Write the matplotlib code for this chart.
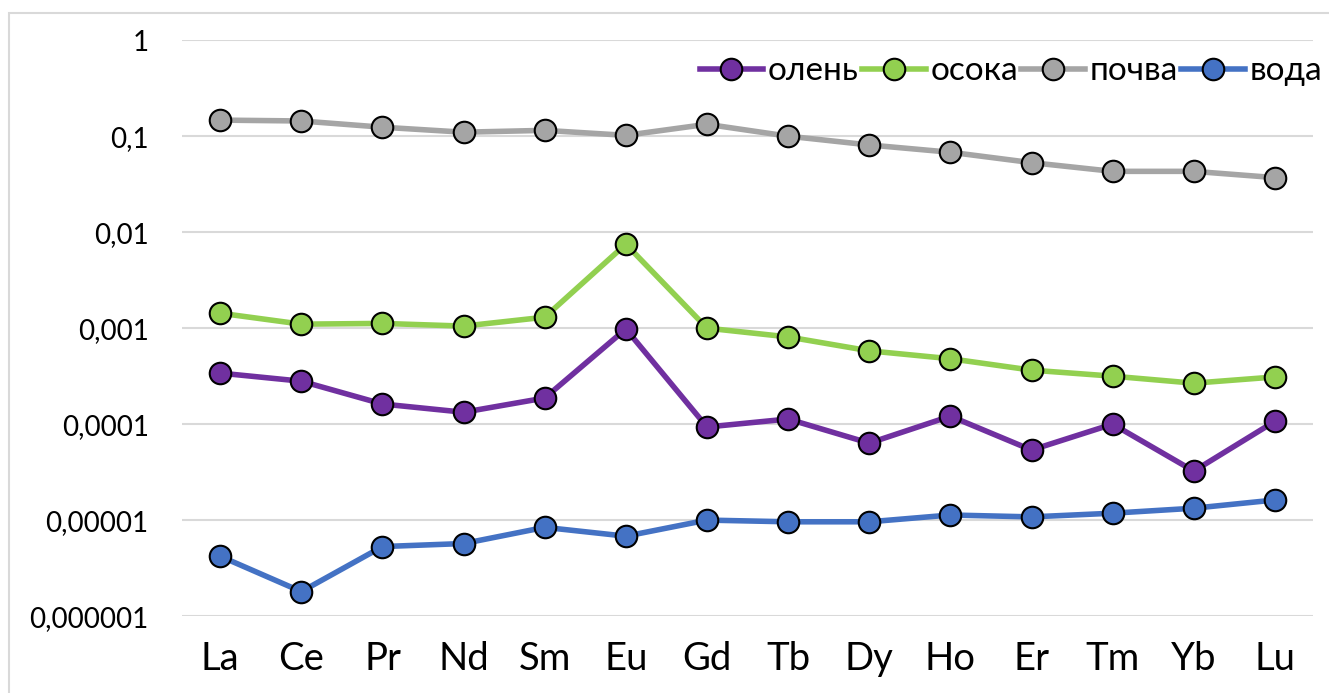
import matplotlib
matplotlib.use("Agg")
import matplotlib.pyplot as plt
from matplotlib.patches import Rectangle

elements = ["La", "Ce", "Pr", "Nd", "Sm", "Eu", "Gd", "Tb", "Dy", "Ho", "Er", "Tm", "Yb", "Lu"]

olen = [0.00034, 0.00028, 0.000162, 0.000133, 0.000187, 0.00098, 0.0000933,
        0.000113, 0.0000634, 0.000121, 0.0000537, 0.0001, 0.0000324, 0.000107]
osoka = [0.00143, 0.0011, 0.00112, 0.00105, 0.0013, 0.0075, 0.001,
         0.00081, 0.00058, 0.00048, 0.000365, 0.000316, 0.000267, 0.00031]
pochva = [0.147, 0.144, 0.124, 0.11, 0.115, 0.102, 0.133,
          0.1, 0.081, 0.068, 0.053, 0.043, 0.043, 0.037]
voda = [0.0000042, 0.0000018, 0.0000053, 0.0000057, 0.0000084, 0.0000068, 0.00001,
        0.0000096, 0.0000096, 0.0000113, 0.0000108, 0.0000118, 0.0000133, 0.0000162]

series = [("олень", olen, "#7030A0"),
          ("осока", osoka, "#92D050"),
          ("почва", pochva, "#A5A5A5"),
          ("вода", voda, "#4472C4")]

yticks = [1e-6, 1e-5, 1e-4, 1e-3, 1e-2, 1e-1, 1]
ylabels = ["0,000001", "0,00001", "0,0001", "0,001", "0,01", "0,1", "1"]

plt.rcParams['font.family'] = ['Lato', 'DejaVu Sans']

fig = plt.figure(figsize=(13.29, 6.93), dpi=100)
ax = fig.add_axes([0.137, 0.111, 0.851, 0.831])

# light frame around the chart area
fig.patches.append(Rectangle((9 / 1329, -0.1), 1.2, 1.1 - 13 / 693, transform=fig.transFigure,
                             fill=False, edgecolor="#D9D9D9", linewidth=1.5))

x = list(range(len(elements)))
for name, vals, col in series:
    ax.plot(x, vals, color=col, linewidth=4, marker="o", markersize=15.5,
            markerfacecolor=col, markeredgecolor="black", markeredgewidth=1.5,
            label=name, zorder=3)

ax.set_yscale("log")
ax.set_ylim(1e-6, 1)
ax.set_xlim(-0.47, 13.47)
ax.yaxis.set_major_locator(matplotlib.ticker.FixedLocator(yticks))
ax.yaxis.set_minor_locator(matplotlib.ticker.NullLocator())
ax.set_yticks(yticks)
ax.set_yticklabels(ylabels)
ax.set_xticks(x)
ax.set_xticklabels(elements)
ax.tick_params(axis="y", length=0, pad=24, labelsize=20)
ax.tick_params(axis="x", length=0, pad=18, labelsize=27.5)
ax.grid(axis="y", color="#D9D9D9", linewidth=1.5)
ax.set_axisbelow(True)
for s in ax.spines.values():
    s.set_visible(False)

ax.legend(loc="upper right", bbox_to_anchor=(1.02, 0.995), ncol=4, frameon=False,
          fontsize=24, handlelength=1.9, handletextpad=0.15, columnspacing=0.1,
          borderaxespad=0)

fig.savefig("out.png", dpi=100)
